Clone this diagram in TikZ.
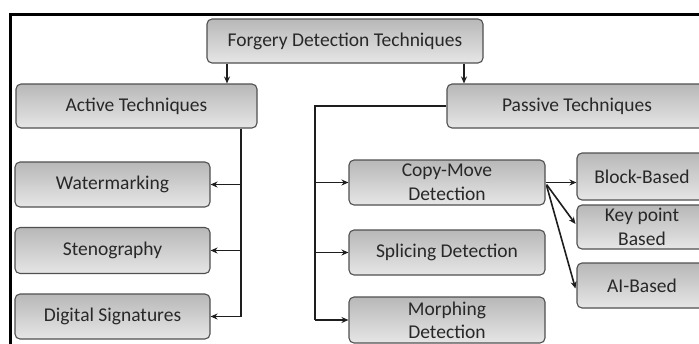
\documentclass[tikz,border=0pt]{standalone}
\usepackage{fontspec}
\setmainfont{Carlito}
\usetikzlibrary{arrows.meta,calc}
\definecolor{boxtop}{RGB}{184,184,184}
\definecolor{boxbot}{RGB}{230,230,230}
\definecolor{boxline}{RGB}{80,80,80}
\definecolor{txt}{RGB}{40,40,40}
\definecolor{wire}{RGB}{30,30,30}
\tikzset{
  box/.style={draw=boxline, line width=1.1pt, rounded corners=5pt,
    top color=boxtop, bottom color=boxbot, text=txt, align=center,
    font=\fontsize{19.5}{24}\selectfont, inner sep=0pt},
  link/.style={draw=wire, line width=1.6pt},
  arr/.style={link, -{Stealth[length=7pt,width=6pt]}},
}
\begin{document}
\begin{tikzpicture}[x=1pt,y=-1pt]
  \useasboundingbox (0,0) rectangle (699,343);
  \clip (0,0) rectangle (699,343);
  \fill[white] (0,0) rectangle (699,343);
  % frame
  \draw[black, line width=3.2pt] (10.5,350) -- (10.5,14.5) -- (705,14.5);

  % boxes
  \node[box, minimum width=276pt, minimum height=44pt] (root) at (345,41) {Forgery Detection Techniques};
  \node[box, minimum width=241pt, minimum height=44pt] (active) at (136.5,106) {Active Techniques};
  \node[box, minimum width=260pt, minimum height=44pt] (passive) at (577,106) {Passive Techniques};

  \node[box, minimum width=195pt, minimum height=45pt] (wm) at (112.5,184.5) {Watermarking};
  \node[box, minimum width=195pt, minimum height=46pt] (steno) at (112.5,250.5) {Stenography};
  \node[box, minimum width=195pt, minimum height=45pt] (dsig) at (112.5,316.5) {Digital Signatures};

  \node[box, minimum width=196pt, minimum height=45pt] (copy) at (447,182.5) {Copy-Move\\Detection};
  \node[box, minimum width=196pt, minimum height=45pt] (splice) at (447,252.5) {Splicing Detection};
  \node[box, minimum width=196pt, minimum height=46pt,
        font=\fontsize{19.5}{23}\selectfont] (morph) at (447,320) {Morphing\\Detection};

  \node[box, minimum width=130pt, minimum height=47pt] (block) at (642,176.5) {Block-Based};
  \node[box, minimum width=130pt, minimum height=44pt] (key) at (642,227) {Key point\\Based};
  \node[box, minimum width=130pt, minimum height=45pt] (ai) at (642,285.5) {AI-Based};

  % bus positions
  \coordinate (abus) at (241,0);
  \coordinate (pbus) at (315,0);
  \coordinate (lroot) at (227,0);
  \coordinate (rroot) at (464,0);

  % root to the two families
  \draw[arr] (root.south -| lroot) -- (active.north -| lroot);
  \draw[arr] (root.south -| rroot) -- (passive.north -| rroot);

  % active branch
  \draw[link] (active.south -| abus) -- (dsig.east -| abus);
  \draw[arr] (wm.east -| abus) -- (wm.east);
  \draw[arr] (steno.east -| abus) -- (steno.east);
  \draw[arr] (dsig.east -| abus) -- (dsig.east);

  % passive branch
  \draw[link] (passive.west) -- (passive.west -| pbus) -- (morph.west -| pbus);
  \draw[arr] (copy.west -| pbus) -- (copy.west);
  \draw[arr] (splice.west -| pbus) -- (splice.west);
  \draw[arr] (morph.west -| pbus) -- (morph.west);

  % copy-move sub-methods
  \draw[arr] (copy.east) -- (copy.east -| block.west);
  \draw[arr] ($(copy.east)+(1,2)$) -- ($(key.west)+(-1,-3)$);
  \draw[arr] ($(copy.east)+(1,3)$) -- ($(ai.west)+(-1,3)$);
\end{tikzpicture}
\end{document}
